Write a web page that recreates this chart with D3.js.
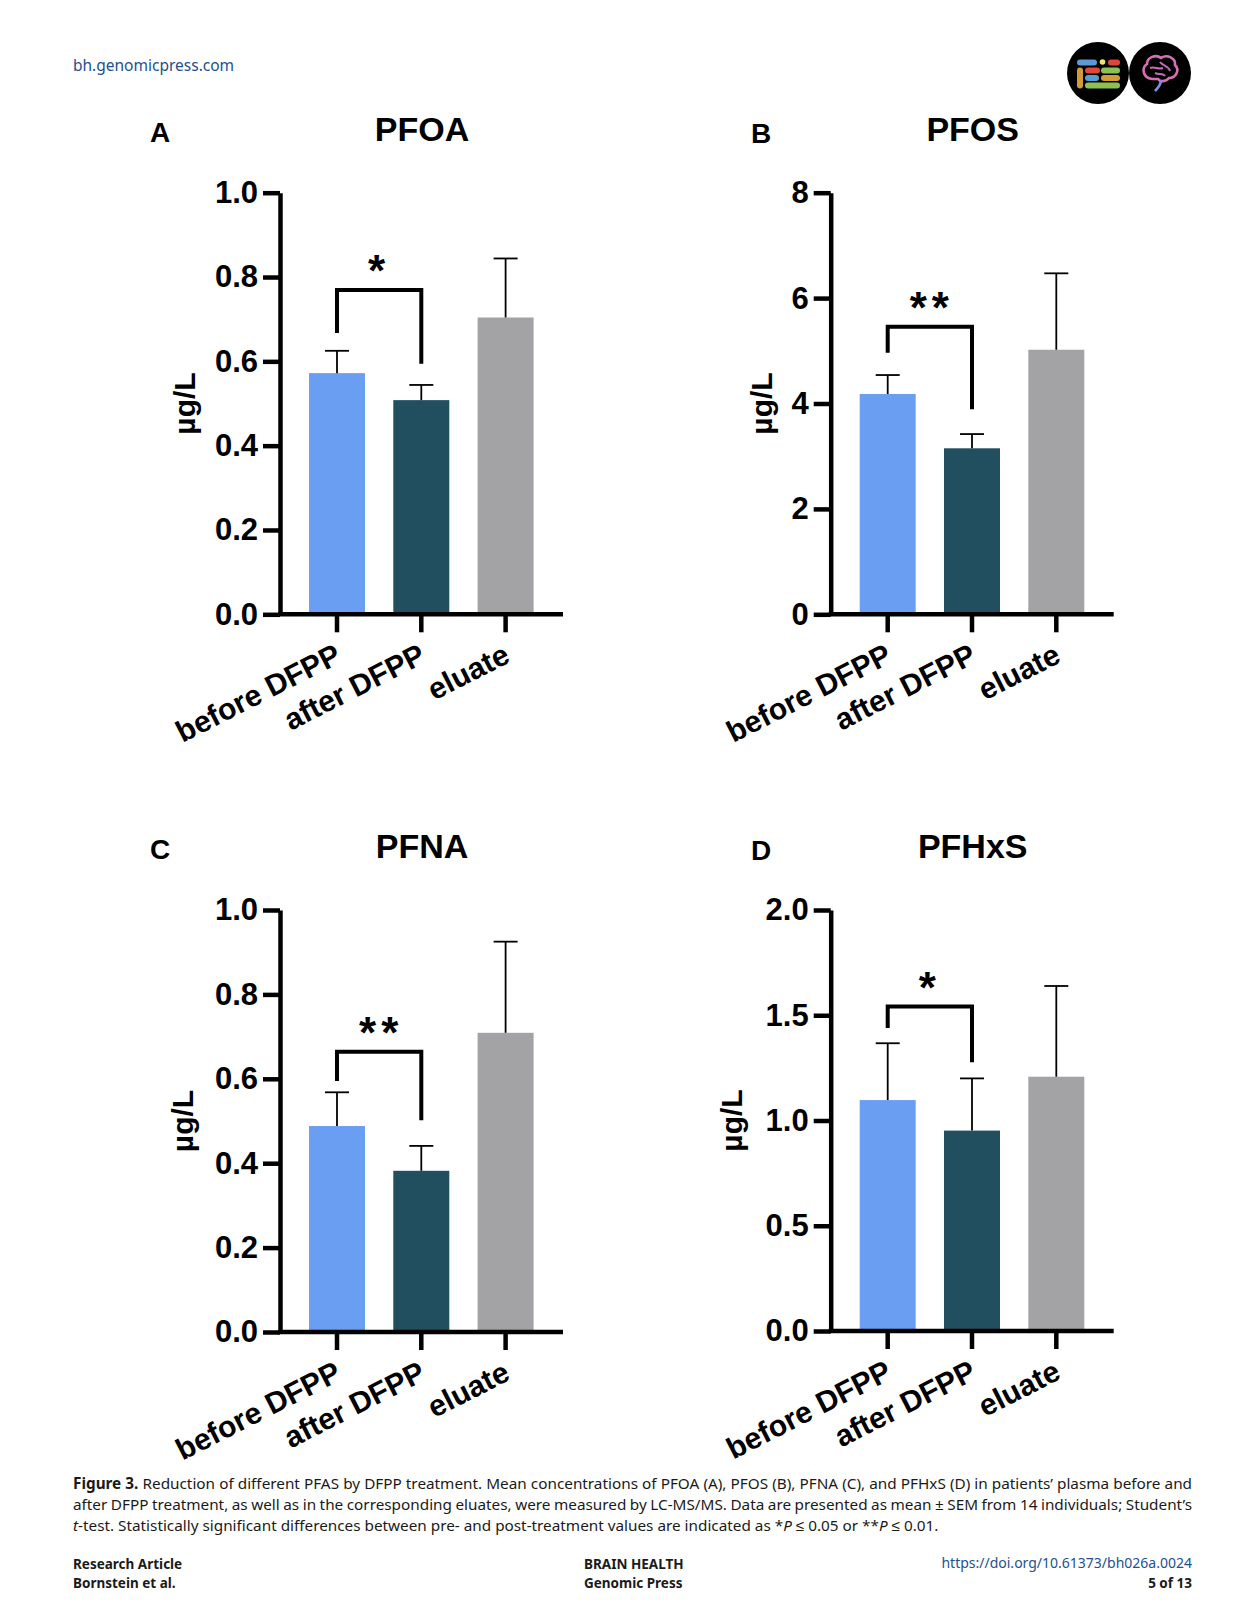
<!DOCTYPE html>
<html>
<head>
<meta charset="utf-8">
<script src="https://cdn.jsdelivr.net/npm/d3@7"></script>
<style>
  body { margin: 0; background: #fff; }
  svg { display: block; }
</style>
</head>
<body>
<script>
// groups on the x axis
const categories = ['before DFPP', 'after DFPP', 'eluate']
const analytes = ['PFOA', 'PFOS', 'PFNA', 'PFHxS']
const panelLetters = ['A', 'B', 'C', 'D']

// mean and SEM per analyte (µg/L)
const pfoaMean = [0.572, 0.508, 0.704]
const pfoaSem = [0.053, 0.036, 0.140]
const pfosMean = [4.18, 3.15, 5.02]
const pfosSem = [0.36, 0.27, 1.45]
const pfnaMean = [0.488, 0.382, 0.709]
const pfnaSem = [0.080, 0.059, 0.216]
const pfhxsMean = [1.097, 0.952, 1.208]
const pfhxsSem = [0.270, 0.248, 0.431]

// axis ticks
const pfoaTicks = [0, 0.2, 0.4, 0.6, 0.8, 1.0]
const pfosTicks = [0, 2, 4, 6, 8]
const pfnaTicks = [0, 0.2, 0.4, 0.6, 0.8, 1.0]
const pfhxsTicks = [0, 0.5, 1.0, 1.5, 2.0]
const tickFormats = ['.1f', 'd', '.1f', '.1f']

// significance brackets: [top, left foot, right foot] in data units
const sigBrackets = [[0.769, 0.667, 0.594], [5.457, 4.964, 3.89], [0.664, 0.595, 0.502], [1.541, 1.44, 1.277]]
const sigLabels = ['*', '**', '**', '*']

const means = [pfoaMean, pfosMean, pfnaMean, pfhxsMean]
const sems = [pfoaSem, pfosSem, pfnaSem, pfhxsSem]
const ticks = [pfoaTicks, pfosTicks, pfnaTicks, pfhxsTicks]

const colors = ['#699ef2', '#224f60', '#a3a3a5']
const width = 1242
const height = 1612
const font = '"Liberation Sans", Arial, sans-serif'

// where each panel sits on the page
const layout = [
  { ox: 280, top: 192.7, bottom: 614.3, letterX: 160, ylab: 96 },
  { ox: 830.7, top: 192.7, bottom: 614.3, letterX: 761, ylab: 69 },
  { ox: 280, top: 910, bottom: 1332, letterX: 160, ylab: 98 },
  { ox: 830.7, top: 910, bottom: 1331, letterX: 761, ylab: 99 }
]

let svg = d3.select('body')
  .append('svg')
  .attr('width', width)
  .attr('height', height)

svg.append('rect').attr('width', width).attr('height', height).attr('fill', '#fff')

// header
svg.append('text')
  .attr('x', 73)
  .attr('y', 71)
  .attr('font-family', '"Noto Sans", sans-serif')
  .attr('font-size', 15.5)
  .attr('fill', '#24508f')
  .text('bh.genomicpress.com')

// logo
let logo = svg.append('g')
logo.append('circle').attr('cx', 1098).attr('cy', 73).attr('r', 31).attr('fill', '#000')
logo.append('circle').attr('cx', 1160).attr('cy', 73).attr('r', 31).attr('fill', '#000')
const blocks = [
  [1077, 59.5, 20, 6, '#5b9bd5'], [1108, 59.5, 12, 6, '#e0463c'],
  [1077, 67.5, 6, 21, '#d39a3a'], [1085, 67.5, 15, 6, '#e0463c'],
  [1101, 67.5, 19, 6, '#8cc152'], [1085, 75, 14, 6, '#5b9bd5'],
  [1101, 75, 19, 6, '#d39a3a'], [1085, 82.5, 35, 6, '#8cc152']
]
logo.selectAll('rect.blk')
  .data(blocks)
  .enter()
  .append('rect')
  .attr('x', d => d[0]).attr('y', d => d[1])
  .attr('width', d => d[2]).attr('height', d => d[3])
  .attr('rx', 3)
  .attr('fill', d => d[4])
logo.append('circle').attr('cx', 1102.5).attr('cy', 62).attr('r', 2.8).attr('fill', '#f3e36a')
logo.append('path')
  .attr('d', 'M1152,79 C1143,78 1141,68 1147,64 C1147,57 1156,54 1161,58 C1167,54 1176,58 1175,65 C1180,70 1176,78 1169,78 C1166,82 1160,82 1158,79 Z')
  .attr('fill', 'none').attr('stroke', '#d86fb5').attr('stroke-width', 2.6)
logo.append('path')
  .attr('d', 'M1150,68 C1155,66 1158,70 1163,68 M1160,62 C1163,66 1169,66 1170,71 M1155,73 C1159,75 1163,73 1165,76')
  .attr('fill', 'none').attr('stroke', '#c56bbd').attr('stroke-width', 2)
logo.append('path')
  .attr('d', 'M1161,80 C1161,85 1158,88 1155,91')
  .attr('fill', 'none').attr('stroke', '#7d8fe0').attr('stroke-width', 2.6)

// panels
analytes.forEach(function (name, p) {
  const L = layout[p]
  const g = svg.append('g')
  const yMax = d3.max(ticks[p])

  const y = d3.scaleLinear()
    .domain([0, yMax])
    .range([L.bottom, L.top])

  const x = d3.scalePoint()
    .domain(categories)
    .range([L.ox + 57, L.ox + 225.6])

  const barW = 56

  const rows = categories.map((c, i) => ({ cat: c, mean: means[p][i], sem: sems[p][i], color: colors[i] }))

  // bars
  g.selectAll('rect.bar')
    .data(rows)
    .enter()
    .append('rect')
    .attr('class', 'bar')
    .attr('x', d => x(d.cat) - barW / 2)
    .attr('y', d => y(d.mean))
    .attr('width', barW)
    .attr('height', d => y(0) - y(d.mean))
    .attr('fill', d => d.color)

  // error bars (upper only)
  g.selectAll('line.err')
    .data(rows)
    .enter()
    .append('line')
    .attr('x1', d => x(d.cat)).attr('x2', d => x(d.cat))
    .attr('y1', d => y(d.mean)).attr('y2', d => y(d.mean + d.sem))
    .attr('stroke', '#000').attr('stroke-width', 1.8)
  g.selectAll('line.cap')
    .data(rows)
    .enter()
    .append('line')
    .attr('x1', d => x(d.cat) - 12).attr('x2', d => x(d.cat) + 12)
    .attr('y1', d => y(d.mean + d.sem)).attr('y2', d => y(d.mean + d.sem))
    .attr('stroke', '#000').attr('stroke-width', 1.8)

  // y axis
  const yAxis = g.append('g')
    .attr('transform', `translate(${L.ox},0)`)
    .call(d3.axisLeft(y)
      .tickValues(ticks[p])
      .tickFormat(d3.format(tickFormats[p]))
      .tickSize(17)
      .tickSizeOuter(0)
      .tickPadding(5))
  yAxis.select('.domain').attr('stroke-width', 4.5).attr('stroke', '#000')
  yAxis.selectAll('.tick line').attr('stroke-width', 4.5).attr('stroke', '#000')
  yAxis.selectAll('.tick text')
    .attr('font-family', font)
    .attr('font-weight', 'bold')
    .attr('font-size', 31)
    .attr('fill', '#000')

  // x axis
  g.append('line')
    .attr('x1', L.ox - 2).attr('x2', L.ox + 283)
    .attr('y1', y(0)).attr('y2', y(0))
    .attr('stroke', '#000').attr('stroke-width', 4.5)
  g.selectAll('line.xtick')
    .data(categories)
    .enter()
    .append('line')
    .attr('x1', d => x(d)).attr('x2', d => x(d))
    .attr('y1', y(0)).attr('y2', y(0) + 18)
    .attr('stroke', '#000').attr('stroke-width', 4.5)
  g.selectAll('text.xlab')
    .data(categories)
    .enter()
    .append('text')
    .attr('transform', d => `translate(${x(d) + 6},${y(0) + 47}) rotate(-27)`)
    .attr('text-anchor', 'end')
    .attr('font-family', font)
    .attr('font-weight', 'bold')
    .attr('font-size', 30)
    .text(d => d)

  // y label
  g.append('text')
    .attr('transform', `translate(${L.ox - L.ylab},${(L.top + L.bottom) / 2}) rotate(-90)`)
    .attr('text-anchor', 'middle')
    .attr('dy', '0.35em')
    .attr('font-family', font)
    .attr('font-weight', 'bold')
    .attr('font-size', 30)
    .text('µg/L')

  // title and panel letter
  g.append('text')
    .attr('x', L.ox + 142)
    .attr('y', L.top - 52)
    .attr('text-anchor', 'middle')
    .attr('font-family', font)
    .attr('font-weight', 'bold')
    .attr('font-size', 34)
    .text(name)
  g.append('text')
    .attr('x', L.letterX)
    .attr('y', L.top - 51 + (p % 2) * 1)
    .attr('text-anchor', 'middle')
    .attr('font-family', font)
    .attr('font-weight', 'bold')
    .attr('font-size', 28)
    .text(panelLetters[p])

  // significance bracket
  const b = sigBrackets[p]
  const x1 = x(categories[0])
  const x2 = x(categories[1])
  g.append('path')
    .attr('d', `M${x1},${y(b[1])} V${y(b[0])} H${x2} V${y(b[2])}`)
    .attr('fill', 'none')
    .attr('stroke', '#000')
    .attr('stroke-width', 4)
  g.append('text')
    .attr('x', (x1 + x2) / 2 + (sigLabels[p].length - 1) * 2)
    .attr('y', y(b[0]) - 4)
    .attr('text-anchor', 'middle')
    .attr('letter-spacing', 5)
    .attr('font-family', font)
    .attr('font-weight', 'bold')
    .attr('font-size', 44)
    .text(sigLabels[p])
})

// caption
const capFont = '"Noto Sans", sans-serif'
const capLeft = 73
const capRight = 1192
const capSize = 15.3

function justify(sel) {
  const w = sel.node().getComputedTextLength()
  const spaces = (sel.text().match(/ /g) || []).length
  sel.attr('word-spacing', (capRight - capLeft - w) / spaces)
}

let cap1 = svg.append('text')
  .attr('x', capLeft).attr('y', 1489)
  .attr('font-family', capFont).attr('font-size', capSize).attr('fill', '#1a1a1a')
cap1.append('tspan').attr('font-weight', 'bold').text('Figure 3.')
cap1.append('tspan').text(' Reduction of different PFAS by DFPP treatment. Mean concentrations of PFOA (A), PFOS (B), PFNA (C), and PFHxS (D) in patients’ plasma before and')
justify(cap1)

let cap2 = svg.append('text')
  .attr('x', capLeft).attr('y', 1510)
  .attr('font-family', capFont).attr('font-size', capSize).attr('fill', '#1a1a1a')
  .text('after DFPP treatment, as well as in the corresponding eluates, were measured by LC-MS/MS. Data are presented as mean ± SEM from 14 individuals; Student’s')
justify(cap2)

let cap3 = svg.append('text')
  .attr('x', capLeft).attr('y', 1531)
  .attr('font-family', capFont).attr('font-size', capSize).attr('fill', '#1a1a1a')
cap3.append('tspan').attr('font-style', 'italic').text('t')
cap3.append('tspan').text('-test. Statistically significant differences between pre- and post-treatment values are indicated as *')
cap3.append('tspan').attr('font-style', 'italic').text('P')
cap3.append('tspan').text(' ≤ 0.05 or **')
cap3.append('tspan').attr('font-style', 'italic').text('P')
cap3.append('tspan').text(' ≤ 0.01.')

// footer
const footer = [
  ['Research Article', 73, 1569, 'start', '#1a1a1a'],
  ['Bornstein et al.', 73, 1588, 'start', '#1a1a1a'],
  ['BRAIN HEALTH', 584, 1569, 'start', '#1a1a1a'],
  ['Genomic Press', 584, 1588, 'start', '#1a1a1a'],
  ['5 of 13', 1192, 1588, 'end', '#1a1a1a']
]
svg.selectAll('text.foot')
  .data(footer)
  .enter()
  .append('text')
  .attr('x', d => d[1]).attr('y', d => d[2])
  .attr('text-anchor', d => d[3])
  .attr('fill', d => d[4])
  .attr('font-family', capFont)
  .attr('font-weight', 'bold')
  .attr('font-size', 13.5)
  .text(d => d[0])

svg.append('text')
  .attr('x', 1192).attr('y', 1568)
  .attr('text-anchor', 'end')
  .attr('font-family', capFont)
  .attr('font-size', 14)
  .attr('fill', '#24508f')
  .text('https://doi.org/10.61373/bh026a.0024')
</script>
</body>
</html>
